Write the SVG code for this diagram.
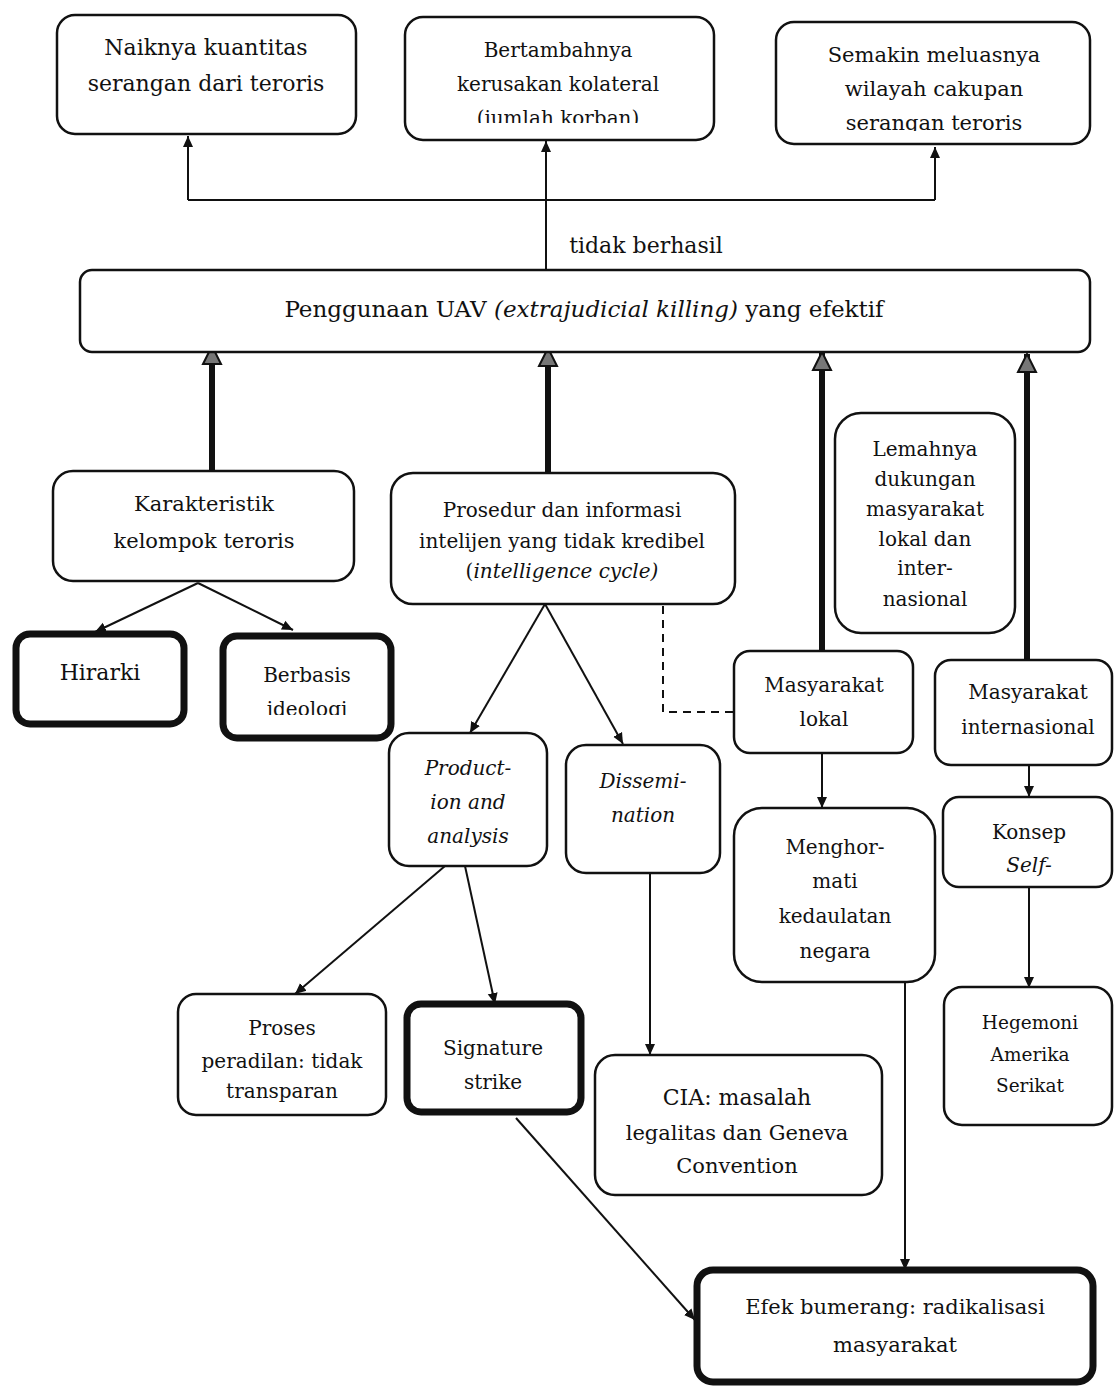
<svg xmlns="http://www.w3.org/2000/svg" width="1114" height="1387" viewBox="0 0 1114 1387">
<style>
.box{fill:#fff;stroke:#111;stroke-width:2.5}
.bold{fill:#fff;stroke:#111;stroke-width:7}
.t{font-family:"DejaVu Serif","Liberation Serif",serif;font-size:21px;fill:#111;text-anchor:middle}
.s{font-size:20px}
.i{font-style:italic}
.ln{fill:none;stroke:#111;stroke-width:2}
.thick{fill:none;stroke:#111;stroke-width:6}
.dash{fill:none;stroke:#111;stroke-width:2;stroke-dasharray:8 6}
</style>
<defs>
<marker id="ah" markerWidth="12" markerHeight="12" refX="11" refY="6" orient="auto" markerUnits="userSpaceOnUse">
<path d="M0,1 L11,6 L0,11 z" fill="#111"/>
</marker>
<marker id="ahg" markerWidth="22" markerHeight="22" refX="20" refY="11" orient="auto" markerUnits="userSpaceOnUse">
<path d="M2,2 L20,11 L2,20 z" fill="#777" stroke="#111" stroke-width="2"/>
</marker>
<clipPath id="c2"><rect x="407" y="19" width="305" height="104"/></clipPath>
<clipPath id="c3"><rect x="778" y="24" width="310" height="107"/></clipPath>
<clipPath id="c4"><rect x="225" y="638" width="164" height="77"/></clipPath>
</defs>

<g id="connectors">
<path class="ln" d="M546,270 L546,141" marker-end="url(#ah)"/>
<path class="ln" d="M188,200 L935,200"/>
<path class="ln" d="M188,200 L188,136" marker-end="url(#ah)"/>
<path class="ln" d="M935,200 L935,147" marker-end="url(#ah)"/>
<path class="thick" d="M212,471 L212,346" marker-end="url(#ahg)"/>
<path class="thick" d="M548,473 L548,348" marker-end="url(#ahg)"/>
<path class="thick" d="M822,651 L822,352" marker-end="url(#ahg)"/>
<path class="thick" d="M1027,660 L1027,354" marker-end="url(#ahg)"/>
<path class="ln" d="M198,583 L95,632" marker-end="url(#ah)"/>
<path class="ln" d="M198,583 L293,630" marker-end="url(#ah)"/>
<path class="ln" d="M545,604 L470,733" marker-end="url(#ah)"/>
<path class="ln" d="M545,604 L623,744" marker-end="url(#ah)"/>
<path class="dash" d="M663,606 L663,712 L733,712"/>
<path class="ln" d="M822,753 L822,808" marker-end="url(#ah)"/>
<path class="ln" d="M1029,765 L1029,797" marker-end="url(#ah)"/>
<path class="ln" d="M445,866 L295,994" marker-end="url(#ah)"/>
<path class="ln" d="M465,866 L495,1004" marker-end="url(#ah)"/>
<path class="ln" d="M650,873 L650,1055" marker-end="url(#ah)"/>
<path class="ln" d="M1029,887 L1029,988" marker-end="url(#ah)"/>
<path class="ln" d="M905,982 L905,1270" marker-end="url(#ah)"/>
<path class="ln" d="M516,1118 L695,1320" marker-end="url(#ah)"/>
</g>

<g id="naiknya">
<rect class="box" x="57" y="15" width="299" height="119" rx="18"/>
<text class="t" x="206" y="55" style="font-size:22px">Naiknya kuantitas</text>
<text class="t" x="206" y="91" style="font-size:22px">serangan dari teroris</text>
</g>
<g id="bertambahnya">
<rect class="box" x="405" y="17" width="309" height="123" rx="18"/>
<g clip-path="url(#c2)">
<text class="t s" x="558" y="57">Bertambahnya</text>
<text class="t s" x="558" y="91">kerusakan kolateral</text>
<text class="t s" x="558" y="125">(jumlah korban)</text>
</g>
</g>
<g id="semakin">
<rect class="box" x="776" y="22" width="314" height="122" rx="18"/>
<g clip-path="url(#c3)">
<text class="t" x="934" y="62">Semakin meluasnya</text>
<text class="t" x="934" y="96">wilayah cakupan</text>
<text class="t" x="934" y="130">serangan teroris</text>
</g>
</g>
<text class="t" x="646" y="253" style="font-size:22px">tidak berhasil</text>

<g id="uav">
<rect class="box" x="80" y="270" width="1010" height="82" rx="12"/>
<text class="t" x="584" y="317" style="font-size:23px">Penggunaan UAV <tspan class="i">(extrajudicial killing)</tspan> yang efektif</text>
</g>

<g id="karakteristik">
<rect class="box" x="53" y="471" width="301" height="110" rx="20"/>
<text class="t" x="204" y="511">Karakteristik</text>
<text class="t" x="204" y="548">kelompok teroris</text>
</g>
<g id="prosedur">
<rect class="box" x="391" y="473" width="344" height="131" rx="22"/>
<text class="t s" x="562" y="517">Prosedur dan informasi</text>
<text class="t s" x="562" y="548">intelijen yang tidak kredibel</text>
<text class="t s" x="562" y="578">(<tspan class="i">intelligence cycle)</tspan></text>
</g>
<g id="hirarki">
<rect class="bold" x="16" y="634" width="168" height="90" rx="14"/>
<text class="t" x="100" y="680" style="font-size:22px">Hirarki</text>
</g>
<g id="berbasis">
<rect class="bold" x="223" y="636" width="168" height="102" rx="14"/>
<g clip-path="url(#c4)">
<text class="t s" x="307" y="682">Berbasis</text>
<text class="t s" x="307" y="716">ideologi</text>
</g>
</g>
<g id="lemahnya">
<rect class="box" x="835" y="413" width="180" height="220" rx="26"/>
<text class="t s" x="925" y="456">Lemahnya</text>
<text class="t s" x="925" y="486">dukungan</text>
<text class="t s" x="925" y="516">masyarakat</text>
<text class="t s" x="925" y="546">lokal dan</text>
<text class="t s" x="925" y="575">inter-</text>
<text class="t s" x="925" y="606">nasional</text>
</g>
<g id="masy-lokal">
<rect class="box" x="734" y="651" width="179" height="102" rx="16"/>
<text class="t s" x="824" y="692">Masyarakat</text>
<text class="t s" x="824" y="726">lokal</text>
</g>
<g id="masy-internasional">
<rect class="box" x="935" y="660" width="177" height="105" rx="16"/>
<text class="t s" x="1028" y="699">Masyarakat</text>
<text class="t s" x="1028" y="734">internasional</text>
</g>
<g id="production">
<rect class="box" x="389" y="733" width="158" height="133" rx="20"/>
<text class="t s i" x="468" y="775">Product-</text>
<text class="t s i" x="468" y="809">ion and</text>
<text class="t s i" x="468" y="843">analysis</text>
</g>
<g id="dissemination">
<rect class="box" x="566" y="745" width="154" height="128" rx="20"/>
<text class="t s i" x="643" y="788">Dissemi-</text>
<text class="t s i" x="643" y="822">nation</text>
</g>
<g id="menghormati">
<rect class="box" x="734" y="808" width="201" height="174" rx="28"/>
<text class="t s" x="835" y="854">Menghor-</text>
<text class="t s" x="835" y="888">mati</text>
<text class="t s" x="835" y="923">kedaulatan</text>
<text class="t s" x="835" y="958">negara</text>
</g>
<g id="konsep">
<rect class="box" x="943" y="797" width="169" height="90" rx="16"/>
<text class="t s" x="1029" y="839">Konsep</text>
<text class="t s i" x="1029" y="872">Self-</text>
</g>
<g id="proses">
<rect class="box" x="178" y="994" width="208" height="121" rx="18"/>
<text class="t s" x="282" y="1035">Proses</text>
<text class="t s" x="282" y="1068">peradilan: tidak</text>
<text class="t s" x="282" y="1098">transparan</text>
</g>
<g id="signature">
<rect class="bold" x="407" y="1004" width="174" height="108" rx="14"/>
<text class="t s" x="493" y="1055">Signature</text>
<text class="t s" x="493" y="1089">strike</text>
</g>
<g id="cia">
<rect class="box" x="595" y="1055" width="287" height="140" rx="20"/>
<text class="t" x="737" y="1105" style="font-size:22px">CIA: masalah</text>
<text class="t" x="737" y="1140">legalitas dan Geneva</text>
<text class="t" x="737" y="1173">Convention</text>
</g>
<g id="hegemoni">
<rect class="box" x="944" y="987" width="168" height="138" rx="18"/>
<text class="t" x="1030" y="1029" style="font-size:18.5px">Hegemoni</text>
<text class="t" x="1030" y="1061" style="font-size:18.5px">Amerika</text>
<text class="t" x="1030" y="1092" style="font-size:18.5px">Serikat</text>
</g>
<g id="efek">
<rect class="bold" x="697" y="1270" width="396" height="112" rx="16"/>
<text class="t" x="895" y="1314">Efek bumerang: radikalisasi</text>
<text class="t" x="895" y="1352">masyarakat</text>
</g>
</svg>
